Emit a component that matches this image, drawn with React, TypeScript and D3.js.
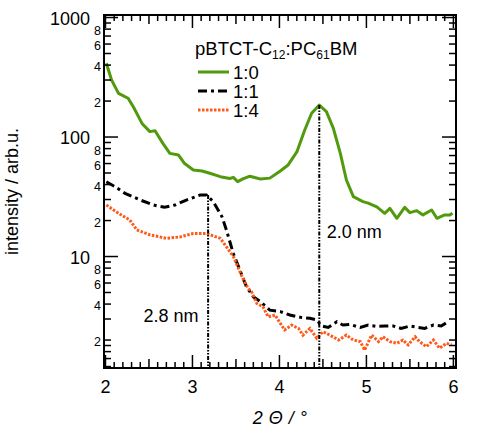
import React from 'react';
import * as d3 from 'd3';

// 1:0 (green, solid)
const x10 = [2.01, 2.07, 2.15, 2.26, 2.32, 2.42, 2.51, 2.57, 2.66, 2.74, 2.84, 2.91, 3.01, 3.11, 3.2, 3.32, 3.43, 3.47, 3.52, 3.58, 3.66, 3.78, 3.89, 4.01, 4.1, 4.2, 4.29, 4.37, 4.458, 4.54, 4.62, 4.7, 4.77, 4.85, 4.96, 5.02, 5.12, 5.21, 5.27, 5.35, 5.44, 5.5, 5.58, 5.65, 5.75, 5.81, 5.9, 5.96, 5.99];
const y10 = [414, 300, 232, 211, 179, 130, 111, 113, 88.5, 73, 70.7, 60, 53, 52, 49.7, 46.6, 45, 46, 42.3, 44.6, 47, 44.6, 45.3, 52, 58.4, 75, 114, 158, 185, 163, 118, 73, 43.7, 31.7, 28.8, 28, 26, 23, 25.3, 20.9, 25.8, 23.3, 24.2, 22.3, 24.5, 20.9, 22.3, 22.3, 23];

// 1:1 (black, dash-dot)
const x11 = [2.01, 2.11, 2.225, 2.4, 2.55, 2.68, 2.8, 2.93, 3.09, 3.16, 3.24, 3.34, 3.39, 3.47, 3.62, 3.7, 3.78, 3.89, 4.01, 4.12, 4.24, 4.35, 4.43, 4.485, 4.56, 4.66, 4.73, 4.81, 4.93, 5.02, 5.12, 5.21, 5.31, 5.4, 5.5, 5.6, 5.67, 5.77, 5.86, 5.94];
const y11 = [42.3, 38.4, 33.8, 29.7, 27, 25.8, 27, 29.7, 32.7, 32.7, 28.8, 21.5, 16.7, 10.6, 5.6, 4.6, 4.2, 3.56, 3.46, 3.24, 3.1, 3.04, 2.94, 2.62, 2.55, 2.85, 2.67, 2.7, 2.55, 2.67, 2.6, 2.62, 2.62, 2.5, 2.62, 2.55, 2.5, 2.67, 2.62, 2.85];

// 1:4 (orange, dotted)
const x14 = [2.01, 2.15, 2.28, 2.36, 2.51, 2.7, 2.86, 3.01, 3.16, 3.32, 3.47, 3.57, 3.64, 3.68, 3.74, 3.81, 3.87, 3.95, 4.01, 4.06, 4.14, 4.22, 4.27, 4.35, 4.43, 4.5, 4.58, 4.68, 4.77, 4.85, 4.93, 4.98, 5.06, 5.14, 5.19, 5.27, 5.35, 5.42, 5.48, 5.56, 5.61, 5.69, 5.77, 5.84, 5.92, 5.98];
const y14 = [27, 23, 20.2, 16.7, 15.2, 14.2, 14.6, 15.6, 15.6, 14.2, 10, 6.8, 5.4, 5.07, 4.05, 3.8, 3.13, 3.24, 2.76, 2.43, 2.67, 2.5, 2.2, 2.5, 2.07, 2.35, 2.2, 2.0, 2.2, 2.0, 1.94, 1.65, 2.2, 1.94, 2.13, 1.94, 1.88, 2.0, 1.82, 2.13, 1.94, 1.76, 2.0, 1.71, 1.88, 1.82];

// peak markers: [x, top value]
const peakX = [3.18, 4.458];
const peakTop = [32.7, 185];
const peakLabels = ['2.8 nm', '2.0 nm'];

const xTickLabels = [2, 3, 4, 5, 6];
const yMajor = [10, 100, 1000];
const legendKeys = ['1:0', '1:1', '1:4'];

const W = 499;
const H = 440;
const left = 104, right = 456, top = 15, bottom = 368;
const font = '"Liberation Sans", Arial, Helvetica, sans-serif';

const GREEN = '#519a0e';
const ORANGE = '#ff5a1a';

export default function App() {
  const x = d3.scaleLinear().domain([1.983, 6.03]).range([left, right]);
  const y = d3.scaleLog().domain([1.167, 1050]).range([bottom, top]);

  const mk = (xs: number[], ys: number[]) =>
    d3
      .line<number>()
      .x(d => x(xs[d]))
      .y(d => y(ys[d]))(d3.range(xs.length)) || '';

  // x ticks every 0.1
  const xTicks = d3.range(20, 61).map(i => ({
    v: i / 10,
    len: i % 10 === 0 ? 13 : i % 5 === 0 ? 9 : 6,
  }));

  // y ticks: 2..9 per decade + fine ticks in lowest partial decade
  const yTicks: { v: number; major: boolean; label: string }[] = [];
  [1, 10, 100, 1000].forEach(dec => {
    for (let m = 1; m <= 9; m++) {
      const v = dec * m;
      if (v < 1.167 || v > 1050) continue;
      yTicks.push({ v, major: m === 1, label: m % 2 === 0 ? String(m) : '' });
    }
  });
  [1.2, 1.4, 1.6, 1.8].forEach(v => yTicks.push({ v, major: false, label: '' }));

  const legendY = [72, 91, 110];
  const legendStyles = [
    { stroke: GREEN, dash: undefined },
    { stroke: '#000', dash: '9,4,3,4' },
    { stroke: ORANGE, dash: '2.5,1.5' },
  ];

  return (
    <svg width={W} height={H} style={{ position: 'absolute', left: 0, top: 0, background: '#fff' }} fontFamily={font}>
      {/* curves */}
      <path d={mk(x10, y10)} fill="none" stroke={GREEN} strokeWidth={3} strokeLinejoin="round" />
      <path d={mk(x11, y11)} fill="none" stroke="#000" strokeWidth={3} strokeDasharray="9,4,3,4" />
      <path d={mk(x14, y14)} fill="none" stroke={ORANGE} strokeWidth={3} strokeDasharray="2.5,1.5" />

      {/* peak markers */}
      {peakX.map((px, i) => (
        <line
          key={i}
          x1={x(px)}
          x2={x(px)}
          y1={y(peakTop[i])}
          y2={bottom}
          stroke="#000"
          strokeWidth={2}
          strokeDasharray="4,1.5,1.5,1.5,1.5,1.5"
        />
      ))}
      <text x={x(3.07)} y={y(2.85)} fontSize={18} textAnchor="end">{peakLabels[0]}</text>
      <text x={x(4.545)} y={y(14.3)} fontSize={18}>{peakLabels[1]}</text>

      {/* legend */}
      <text x={195} y={55} fontSize={18.5}>
        pBTCT-C<tspan fontSize={12} dy={4}>12</tspan>
        <tspan dy={-4}>:PC</tspan>
        <tspan fontSize={12} dy={4}>61</tspan>
        <tspan dy={-4}>BM</tspan>
      </text>
      {legendKeys.map((k, i) => (
        <g key={k}>
          <line x1={198} x2={229} y1={legendY[i]} y2={legendY[i]} stroke={legendStyles[i].stroke} strokeWidth={3} strokeDasharray={legendStyles[i].dash} />
          <text x={233} y={legendY[i] + 6.5} fontSize={18.5}>{k}</text>
        </g>
      ))}

      {/* frame */}
      <rect x={left} y={top} width={right - left} height={bottom - top} fill="none" stroke="#000" strokeWidth={2} />

      {/* x ticks (bottom & top, inward) */}
      {xTicks.map(t => (
        <g key={t.v}>
          <line x1={x(t.v)} x2={x(t.v)} y1={bottom} y2={bottom - t.len} stroke="#000" strokeWidth={1.5} />
          <line x1={x(t.v)} x2={x(t.v)} y1={top} y2={top + t.len} stroke="#000" strokeWidth={1.5} />
        </g>
      ))}
      {xTickLabels.map(v => (
        <text key={v} x={x(v)} y={393} fontSize={18} textAnchor="middle">{v}</text>
      ))}

      {/* y ticks (left & right, inward) */}
      {yTicks.map(t => {
        const len = t.major ? 14 : 7;
        return (
          <g key={t.v}>
            <line x1={left} x2={left + len} y1={y(t.v)} y2={y(t.v)} stroke="#000" strokeWidth={1.5} />
            <line x1={right} x2={right - len} y1={y(t.v)} y2={y(t.v)} stroke="#000" strokeWidth={1.5} />
            {t.label && !t.major && (
              <text x={101} y={y(t.v) + 6} fontSize={12.5} textAnchor="end">{t.label}</text>
            )}
          </g>
        );
      })}
      {yMajor.map(v => (
        <text key={v} x={90} y={y(v) + 7} fontSize={18} textAnchor="end">{v}</text>
      ))}

      {/* axis titles */}
      <text x={(left + right) / 2} y={424} fontSize={18} fontStyle="italic" textAnchor="middle" letterSpacing={0.5}>2 Θ / °</text>
      <text transform={`translate(18,${(top + bottom) / 2}) rotate(-90)`} fontSize={18} textAnchor="middle">intensity / arb.u.</text>
    </svg>
  );
}
